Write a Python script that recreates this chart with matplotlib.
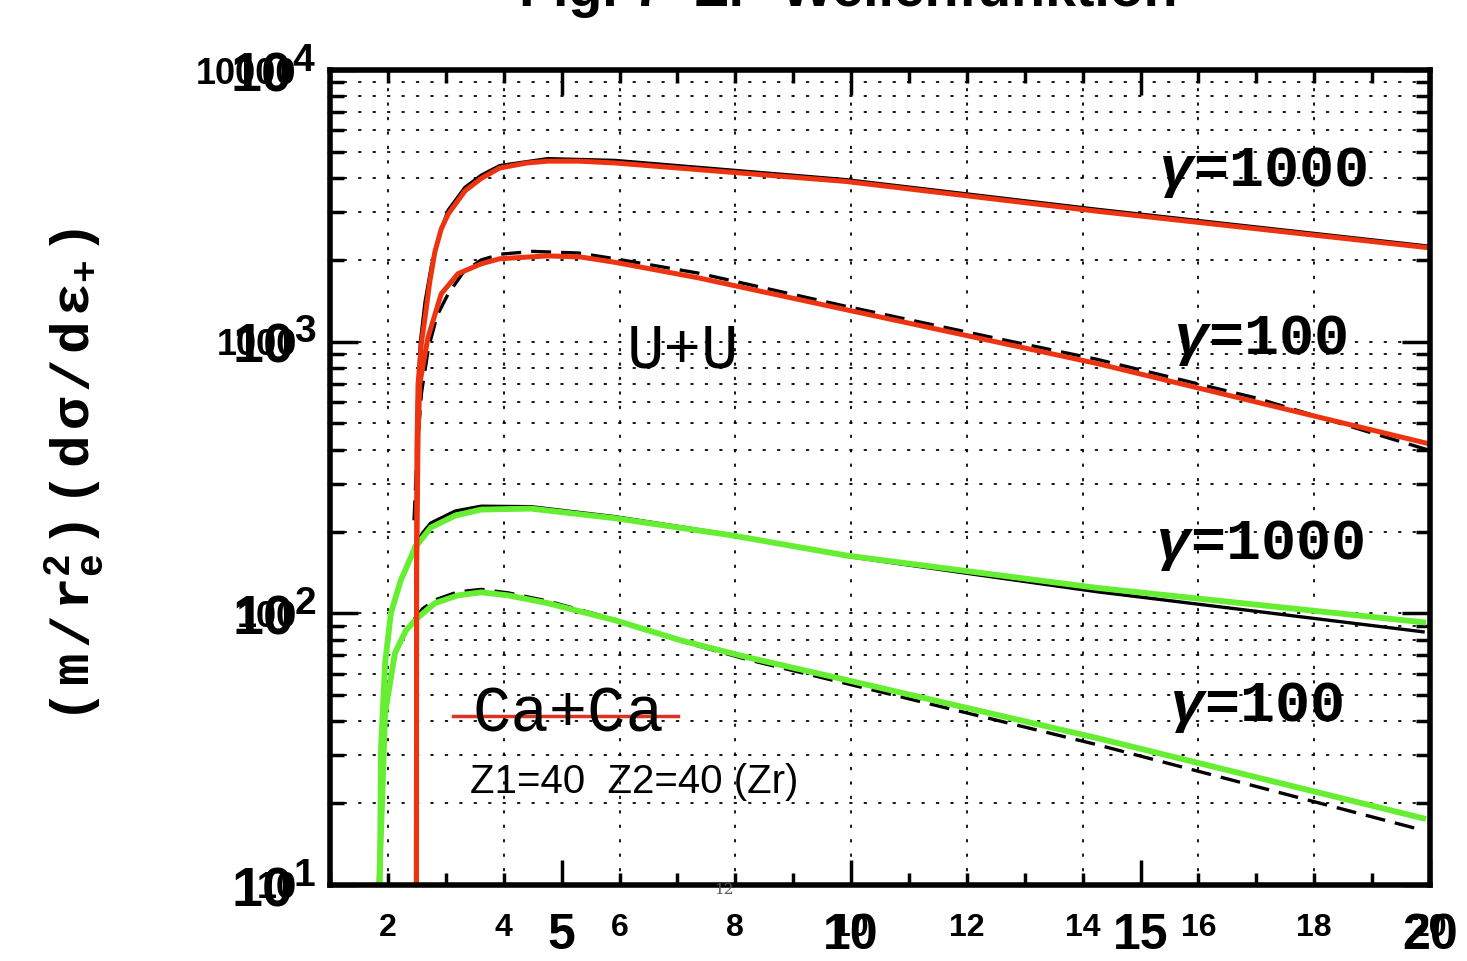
import matplotlib
matplotlib.use('Agg')
import matplotlib.pyplot as plt
from matplotlib import font_manager
from matplotlib.ticker import MultipleLocator

# --- data ---
# U+U, gamma=1000 (red overlay, black original)
uu1000_red_x = [2.49, 2.495, 2.50, 2.52, 2.58, 2.64, 2.72, 2.81, 2.92, 3.04, 3.33, 3.61, 3.93, 4.4, 4.76, 5.3, 5.92, 9.91, 14.26, 19.96]
uu1000_red_y = [5, 150, 400, 700, 1000, 1225, 1650, 2140, 2600, 2950, 3590, 3990, 4360, 4550, 4620, 4620, 4550, 3890, 3020, 2220]
uu1000_blk_x = [2.49, 2.51, 2.56, 2.64, 2.75, 2.88, 3.04, 3.33, 3.61, 3.93, 4.76, 5.92, 9.91, 14.26, 19.96]
uu1000_blk_y = [250, 600, 1000, 1400, 1900, 2450, 3050, 3700, 4100, 4450, 4720, 4650, 3950, 3070, 2250]

# U+U, gamma=100
uu100_red_x = [2.49, 2.495, 2.52, 2.55, 2.69, 2.92, 3.21, 3.61, 3.93, 4.76, 5.33, 5.92, 7.35, 9.91, 14.26, 19.96]
uu100_red_y = [5, 150, 450, 700, 1035, 1500, 1780, 1935, 2020, 2070, 2050, 1960, 1720, 1312, 830, 422]
uu100_blk_x = [2.45, 2.51, 2.58, 2.70, 2.85, 3.04, 3.30, 3.61, 3.95, 4.5, 5.3, 5.92, 7.35, 9.91, 12.5, 14.26, 17.0, 19.96]
uu100_blk_y = [220, 420, 650, 950, 1250, 1500, 1800, 2000, 2100, 2150, 2120, 2020, 1790, 1350, 1030, 860, 620, 400]

# Ca+Ca (Zr), gamma=1000 (green overlay, black original)
ca1000_grn_x = [1.83, 1.86, 1.88, 1.95, 2.05, 2.22, 2.47, 2.74, 3.16, 3.61, 4.47, 5.92, 7.92, 9.94, 14.26, 19.88]
ca1000_grn_y = [8, 10.4, 32, 65.5, 100, 132, 175, 207, 229, 241, 243, 224, 194, 163, 124, 92.7]
ca1000_blk_x = [2.45, 2.6, 2.74, 3.16, 3.61, 4.47, 5.92, 7.92, 9.94, 14.26, 19.88]
ca1000_blk_y = [175, 198, 215, 238, 248, 247, 227, 195, 162, 120, 85.5]

# Ca+Ca (Zr), gamma=100
ca100_grn_x = [1.83, 1.90, 1.95, 2.12, 2.31, 2.52, 2.81, 3.21, 3.61, 4.07, 4.76, 5.92, 7.06, 8.22, 9.94, 14.26, 19.88]
ca100_grn_y = [8, 20.5, 42.8, 71.3, 86.6, 96.6, 109, 116.5, 119.5, 116.5, 109, 94.3, 79.5, 68.8, 56.7, 34.7, 17.6]
ca100_blk_x = [2.45, 2.6, 2.81, 3.21, 3.61, 4.07, 4.76, 5.92, 7.06, 8.22, 9.94, 14.26, 19.88]
ca100_blk_y = [95, 104, 112, 120, 122.5, 119, 111, 95, 79, 67.5, 55, 32.8, 15.9]

big_x_ticks = [5, 10, 15, 20]
small_x_ticks = [2, 4, 6, 8, 10, 12, 14, 16, 18, 20]
grid_x = [2, 4, 6, 8, 10, 12, 14, 16, 18]
y_ticks = [10, 100, 1000, 10000]
big_y_labels = [r'$\mathbf{10^{1}}$', r'$\mathbf{10^{2}}$', r'$\mathbf{10^{3}}$', r'$\mathbf{10^{4}}$']
small_y_labels = ['10', '100', '1000', '10000']

names = {f.name for f in font_manager.fontManager.ttflist}
narrow = 'Liberation Sans Narrow' if 'Liberation Sans Narrow' in names else 'Liberation Sans'

plt.rcParams['mathtext.fontset'] = 'custom'
plt.rcParams['mathtext.rm'] = 'Liberation Mono:bold'
plt.rcParams['mathtext.it'] = 'Liberation Mono:bold:italic'
plt.rcParams['mathtext.bf'] = 'Liberation Sans:bold'

fig = plt.figure(figsize=(14.67, 9.61), dpi=100)
ax = fig.add_axes([0.225, 0.0791, 0.7498, 0.848])
ax.set_yscale('log')
ax.set_xlim(1, 20)
ax.set_ylim(10, 1e4)

# dotted grid
dots = (0, (1, 7))
ax.yaxis.grid(True, which='both', ls=dots, lw=1.3, color='black', dash_capstyle='round')
for gx in grid_x:
    ax.axvline(gx, ls=dots, lw=1.3, color='black', dash_capstyle='round', zorder=0.5)

# original black curves
ax.plot(uu1000_blk_x, uu1000_blk_y, color='black', lw=2.4)
ax.plot(uu100_blk_x, uu100_blk_y, color='black', lw=2.4, ls=(0, (6, 3)))
ax.plot(ca1000_blk_x, ca1000_blk_y, color='black', lw=2.4)
ax.plot(ca100_blk_x, ca100_blk_y, color='black', lw=2.4, ls=(0, (6, 3)))

# coloured overlays
ax.plot(ca1000_grn_x, ca1000_grn_y, color='#66ee33', lw=4.2)
ax.plot(ca100_grn_x, ca100_grn_y, color='#66ee33', lw=4.2)
ax.plot(uu1000_red_x, uu1000_red_y, color='#ee3311', lw=3.6)
ax.plot(uu100_red_x, uu100_red_y, color='#ee3311', lw=3.6)

# labels inside
gam = dict(family='Liberation Mono', weight='bold', fontsize=42, ha='center', va='center')
ax.text(17.11, 4180, r'$\gamma$=1000', **gam)
ax.text(17.06, 1010, r'$\gamma$=100', **gam)
ax.text(17.06, 178, r'$\gamma$=1000', **gam)
ax.text(16.99, 45, r'$\gamma$=100', **gam)
ax.text(7.09, 927, 'U+U', family='Liberation Mono', fontsize=45, ha='center', va='center')
ax.text(5.11, 42.6, 'Ca+Ca', family='Liberation Mono', fontsize=46, ha='center', va='center')
ax.plot([3.12, 7.01], [41.8, 41.8], color='#dd3322', lw=2.5)
ax.text(6.25, 23.9, 'Z1=40  Z2=40 (Zr)', family='Liberation Sans', fontsize=29, ha='center', va='center')

# axes frame and ticks
for s in ax.spines.values():
    s.set_linewidth(4)
ax.set_xticks(big_x_ticks, labels=[str(v) for v in big_x_ticks])
ax.xaxis.set_minor_locator(MultipleLocator(1))
ax.tick_params(axis='x', which='major', direction='in', length=18, width=2.5, top=True, pad=20, labelsize=36)
ax.tick_params(axis='x', which='minor', direction='in', length=9, width=2.5, top=True)
for lab in ax.get_xticklabels():
    lab.set_fontfamily(narrow)
    lab.set_fontweight('bold')

ax.set_yticks(y_ticks, labels=big_y_labels)
ax.tick_params(axis='y', which='major', direction='in', length=20, width=2.5, right=True, pad=10, labelsize=40)
ax.tick_params(axis='y', which='minor', direction='in', length=10, width=2.5, right=True)
ax.yaxis.set_minor_formatter(plt.NullFormatter())

sx = ax.secondary_xaxis('bottom')
sx.set_xticks(small_x_ticks, labels=[str(v) for v in small_x_ticks])
sx.tick_params(length=0, pad=20, labelsize=23)
sx.spines['bottom'].set_visible(False)
for lab in sx.get_xticklabels():
    lab.set_fontfamily(narrow)
    lab.set_fontweight('bold')

sy = ax.secondary_yaxis('left')
sy.set_yticks(y_ticks, labels=small_y_labels)
sy.tick_params(length=0, pad=24, labelsize=26)
sy.spines['left'].set_visible(False)
for lab in sy.get_yticklabels():
    lab.set_fontfamily(narrow)
    lab.set_fontweight('bold')

fig.text(75 / 1467, 1 - 475 / 961,
         r'$\mathrm{(\,m\,/\,r_e^{2}\,)\;(\,d\,\sigma\,/\,d\,\varepsilon_{+}\,)}$',
         rotation=90, ha='center', va='center', fontsize=39)
fig.text(724 / 1467, 1 - 890 / 961, '12', family='DejaVu Serif', fontsize=11, color='#555555',
         ha='center', va='center')
fig.text(0.578, 1 - 6 / 961, 'Fig. 7  Zr  Wellenfunktion', family='Liberation Sans', weight='bold',
         fontsize=40, ha='center', va='baseline')

fig.savefig('out.png', dpi=100)
